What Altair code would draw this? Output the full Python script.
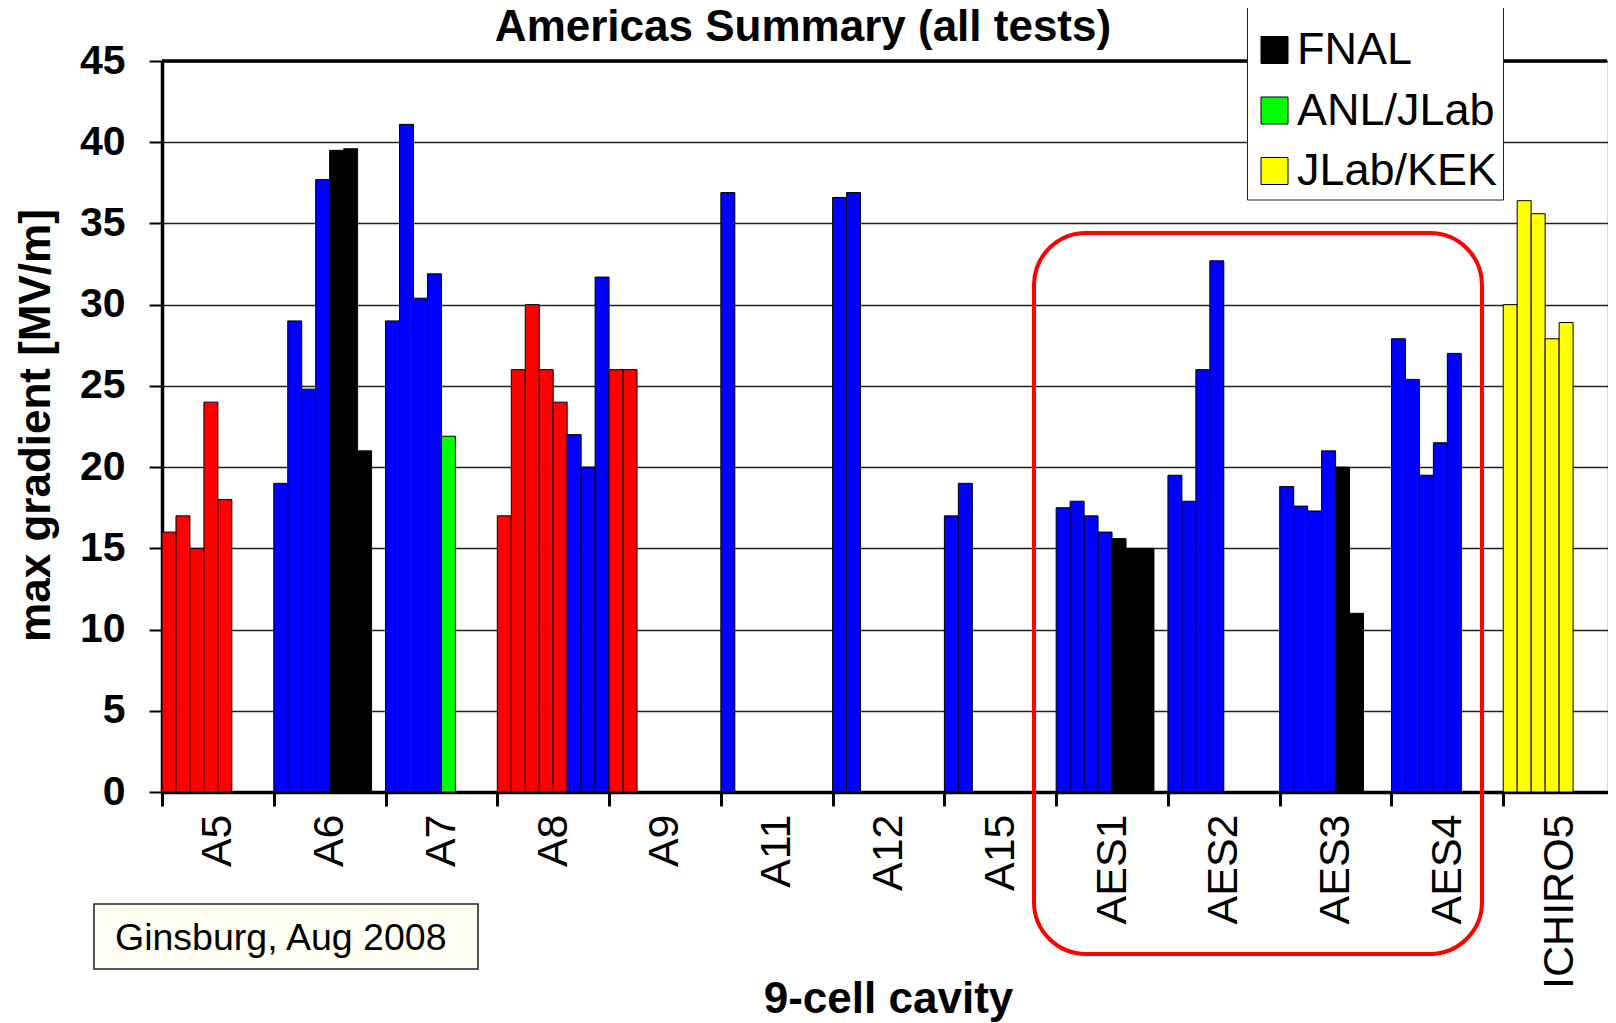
import altair as alt
import pandas as pd

cavities = ["A5", "A6", "A7", "A8", "A9", "A11", "A12", "A15",
            "AES1", "AES2", "AES3", "AES4", "ICHIRO5"]

gradients = [
    [16, 17, 15, 24, 18],
    [19, 29, 24.8, 37.7, 39.5, 39.6, 21],
    [29, 41.1, 30.4, 31.9, 21.9],
    [17, 26, 30, 26, 24, 22, 20, 31.7],
    [26, 26],
    [36.9],
    [36.6, 36.9],
    [17, 19],
    [17.5, 17.9, 17.0, 16.0, 15.6, 15.0, 15.0],
    [19.5, 17.9, 26.0, 32.7],
    [18.8, 17.6, 17.3, 21.0, 20.0, 11.0],
    [27.9, 25.4, 19.5, 21.5, 27.0],
    [30.0, 36.4, 35.6, 27.9, 28.9],
]

labs = [
    ["Cornell"] * 5,
    ["JLab"] * 4 + ["FNAL"] * 3,
    ["JLab"] * 4 + ["ANL/JLab"],
    ["Cornell"] * 5 + ["JLab"] * 3,
    ["Cornell"] * 2,
    ["JLab"],
    ["JLab"] * 2,
    ["JLab"] * 2,
    ["JLab"] * 4 + ["FNAL"] * 3,
    ["JLab"] * 4,
    ["JLab"] * 4 + ["FNAL"] * 2,
    ["JLab"] * 5,
    ["JLab/KEK"] * 5,
]

lab_names = ["JLab", "Cornell", "FNAL", "ANL/JLab", "JLab/KEK"]
lab_colors = ["#0000FF", "#FF0000", "#000000", "#00FF00", "#FFFF00"]

y_ticks = [0, 5, 10, 15, 20, 25, 30, 35, 40, 45]
title_text = "Americas Summary (all tests)"
x_title = "9-cell cavity"
y_title = "max gradient [MV/m]"
footnote = "Ginsburg, Aug 2008"

rows = []
for cav, vals, ls in zip(cavities, gradients, labs):
    for i, (v, l) in enumerate(zip(vals, ls)):
        rows.append({"cavity": cav, "slot": i, "gradient": v, "lab": l})
df = pd.DataFrame(rows)

W, H = 1445, 731
X_SPAN = 1453  # band range runs to the picture's right edge
FONT = "Liberation Sans"

bars = alt.Chart(df).mark_bar(stroke="black", strokeWidth=1).encode(
    x=alt.X(
        "cavity:N",
        sort=cavities,
        scale=alt.Scale(domain=cavities, range=[0, X_SPAN],
                        paddingInner=0, paddingOuter=0),
        axis=alt.Axis(
            title=x_title, titleFont=FONT, titleFontSize=44, titleFontWeight="bold",
            titleColor="black", titleX=726, titleY=220, titleAlign="center",
            titleBaseline="alphabetic", titleAngle=0,
            labelAngle=270, labelFont=FONT, labelFontSize=43,
            labelColor="black", labelPadding=8, labelLimit=400,
            tickBand="extent", tickSize=14, tickWidth=3, tickColor="black",
            domainColor="black", domainWidth=3.5, grid=False,
        ),
    ),
    xOffset=alt.XOffset(
        "slot:O",
        scale=alt.Scale(domain=list(range(8)), paddingInner=0, paddingOuter=0),
    ),
    y=alt.Y(
        "gradient:Q",
        scale=alt.Scale(domain=[0, 45], nice=False, zero=True),
        axis=alt.Axis(
            title=y_title, titleFont=FONT, titleFontSize=44, titleFontWeight="bold",
            titleColor="black", titleAngle=270, titleX=-126, titleY=364,
            titleAlign="center", titleBaseline="middle",
            values=y_ticks, labelFont=FONT, labelFontSize=41, labelFontWeight="bold",
            labelColor="black", labelPadding=24,
            tickSize=13, tickWidth=2, tickColor="black",
            domainColor="black", domainWidth=3.5,
            grid=True, gridColor="#222222", gridWidth=1.3,
        ),
    ),
    color=alt.Color(
        "lab:N",
        scale=alt.Scale(domain=lab_names, range=lab_colors),
        legend=alt.Legend(
            title=None, orient="none", legendX=1085, legendY=-159.5,
            symbolType="square", symbolSize=729, symbolStrokeColor="black",
            symbolStrokeWidth=1, symbolOpacity=1,
            labelFont=FONT, labelFontSize=45, labelColor="black",
            labelOffset=0, labelLimit=400, rowPadding=14.5, padding=5,
            strokeColor="#222222", fillColor="white",
        ),
    ),
)

top_rule = alt.Chart(pd.DataFrame({"k": [0]})).mark_rule(
    color="black", strokeWidth=3.5
).encode(y=alt.datum(45))

title_mark = alt.Chart(pd.DataFrame({"t": [title_text]})).mark_text(
    align="center", baseline="alphabetic", font=FONT, fontSize=44,
    fontWeight="bold", color="black"
).encode(x=alt.value(641), y=alt.value(-20), text="t:N")

highlight = alt.Chart(pd.DataFrame({"k": [0]})).mark_rect(
    filled=False, stroke="#FF0000", strokeWidth=4, cornerRadius=52
).encode(
    x=alt.value(872), x2=alt.value(1320), y=alt.value(172), y2=alt.value(893)
)

note_box = alt.Chart(pd.DataFrame({"k": [0]})).mark_rect(
    fill="#FFFFF4", stroke="#222222", strokeWidth=1.5
).encode(
    x=alt.value(-68), x2=alt.value(316), y=alt.value(843), y2=alt.value(908)
)

note_text = alt.Chart(pd.DataFrame({"t": [footnote]})).mark_text(
    align="left", baseline="alphabetic", font=FONT, fontSize=37.5,
    color="black"
).encode(x=alt.value(-47), y=alt.value(889), text="t:N")

chart = alt.layer(
    bars, top_rule, title_mark, highlight, note_box, note_text
).properties(
    width=W,
    height=H,
    autosize=alt.AutoSizeParams(type="none"),
    padding={"left": 154, "top": 53, "right": 1, "bottom": 231},
).configure_view(
    stroke="black", strokeWidth=1.5
).configure(background="white")

chart.save("out.html", embed_options={"renderer": "svg", "actions": False})
